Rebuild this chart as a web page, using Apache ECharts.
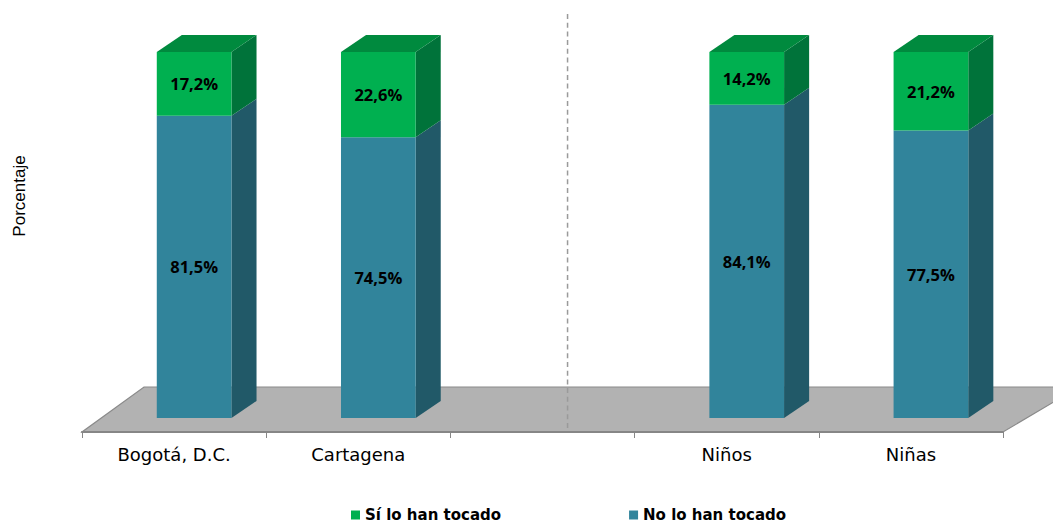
<!DOCTYPE html>
<html>
<head>
<meta charset="utf-8">
<script src="https://cdn.jsdelivr.net/npm/echarts@6/dist/echarts.min.js"></script>
<style>
  html, body { margin: 0; padding: 0; background: #ffffff; }
  #chart { width: 1053px; height: 523px; }
</style>
</head>
<body>
<div id="chart"></div>
<script>
// Categories (the empty slot separates city results from sex results)
const categories = ['Bogotá, D.C.', 'Cartagena', '', 'Niños', 'Niñas'];
// Percentages per category
const siTocado = [17.2, 22.6, null, 14.2, 21.2];
const noTocado = [81.5, 74.5, null, 84.1, 77.5];
const seriesNames = ['Sí lo han tocado', 'No lo han tocado'];
const dividerSlot = 2;
const yAxisTitle = 'Porcentaje';

// Pseudo-3D geometry, expressed against the category band width
const BAR_SHIFT = -0.094;   // front face left edge relative to band centre
const BAR_WIDTH = 0.4055;   // front face width
const DEPTH_X = 0.136;      // receding offset (horizontal)
const DEPTH_Y = -17;        // receding offset (vertical, px)
const FLOOR_FRONT = 14;     // floor front edge below the zero line
const FLOOR_DX_LEFT = 62, FLOOR_DX_RIGHT = 76, FLOOR_DY = -45;

const COLORS = {
  si: { face: '#00b050', side: '#00733a', top: '#008a3e' },
  no: { face: '#31849b', side: '#215968', top: '#286d80' }
};

const fmt = v => v.toFixed(1).replace('.', ',') + '%';

function segmentData(values, others) {
  const out = [];
  values.forEach((v, i) => { if (v != null) out.push([i, v, others[i]]); });
  return out;
}

// Draws one segment of a 100% stacked pseudo-3D column
function segmentRenderer(col, isUpper) {
  return function (params, api) {
    const i = api.value(0);
    const v = api.value(1);
    const other = api.value(2);
    const total = v + other;
    const lo = isUpper ? other / total * 100 : 0;
    const hi = lo + v / total * 100;
    const c = api.coord([i, 0]);
    const bw = api.size([1, 0])[0];
    const x0 = c[0] + BAR_SHIFT * bw;
    const x1 = x0 + BAR_WIDTH * bw;
    const yLo = api.coord([i, lo])[1];
    const yHi = api.coord([i, hi])[1];
    const dx = DEPTH_X * bw, dy = DEPTH_Y;
    const children = [
      { type: 'polygon', shape: { points: [[x1, yLo], [x1 + dx, yLo + dy], [x1 + dx, yHi + dy], [x1, yHi]] },
        style: { fill: col.side } },
      { type: 'rect', shape: { x: x0, y: yHi, width: x1 - x0, height: yLo - yHi },
        style: { fill: col.face } }
    ];
    if (isUpper) {
      children.push({ type: 'polygon', shape: { points: [[x0, yHi], [x1, yHi], [x1 + dx, yHi + dy], [x0 + dx, yHi + dy]] },
        style: { fill: col.top } });
    }
    children.push({ type: 'text', x: (x0 + x1) / 2, y: (yLo + yHi) / 2,
      style: { text: fmt(v), font: 'bold 16.5px "Open Sans"', fill: '#000000', align: 'center', verticalAlign: 'middle' } });
    return { type: 'group', children };
  };
}

// Grey floor plane and the dashed divider between the two groups
function floorRenderer(params, api) {
  const c = api.coord([0, 0]);
  const bw = api.size([1, 0])[0];
  const xl = c[0] - bw / 2;
  const xr = xl + bw * categories.length;
  const yf = c[1] + FLOOR_FRONT;
  const top = api.coord([0, 100])[1];
  const xd = api.coord([dividerSlot, 0])[0] + DEPTH_X * bw;
  return {
    type: 'group',
    children: [
      { type: 'polygon', shape: { points: [[xl, yf], [xr, yf], [xr + FLOOR_DX_RIGHT, yf + FLOOR_DY], [xl + FLOOR_DX_LEFT, yf + FLOOR_DY]] },
        style: { fill: '#b2b2b2', stroke: '#8a8a8a', lineWidth: 1.2 } },
      { type: 'line', shape: { x1: xd, y1: top - 38, x2: xd, y2: yf },
        style: { stroke: '#9a9a9a', lineWidth: 1.5, lineDash: [5, 3.7] } }
    ]
  };
}

const chart = echarts.init(document.getElementById('chart'), null, { renderer: 'svg' });
chart.setOption({
  animation: false,
  backgroundColor: '#ffffff',
  grid: { left: 82, right: 50, top: 52, bottom: 105 },
  xAxis: {
    type: 'category',
    data: categories,
    boundaryGap: true,
    offset: FLOOR_FRONT,
    z: 10,
    axisLine: { onZero: false, lineStyle: { color: '#868686', width: 2 } },
    axisTick: { show: true, interval: 0, length: 6, lineStyle: { color: '#868686', width: 1 } },
    axisLabel: { interval: 0, margin: 13, color: '#000000', fontFamily: 'DejaVu Sans', fontSize: 18 },
    splitLine: { show: false }
  },
  yAxis: { type: 'value', min: 0, max: 100, show: false },
  legend: {
    data: seriesNames,
    left: 351, top: 507.5, padding: 0,
    icon: 'rect', itemWidth: 9, itemHeight: 9, itemGap: 128,
    textStyle: { fontFamily: 'DejaVu Sans', fontWeight: 'bold', fontSize: 15, color: '#000000', lineHeight: 14 }
  },
  graphic: [{
    type: 'text', x: 19.5, y: 196, rotation: Math.PI / 2,
    style: { text: yAxisTitle, font: '17px "Liberation Sans"', fill: '#000000', align: 'center', verticalAlign: 'middle' }
  }],
  series: [
    { type: 'custom', name: 'floor', z: 1, silent: true, renderItem: floorRenderer, data: [[0, 0]], encode: { x: 0, y: 1 } },
    { type: 'custom', name: seriesNames[1], z: 2, itemStyle: { color: COLORS.no.face },
      renderItem: segmentRenderer(COLORS.no, false), data: segmentData(noTocado, siTocado), encode: { x: 0, y: 1 } },
    { type: 'custom', name: seriesNames[0], z: 3, itemStyle: { color: COLORS.si.face },
      renderItem: segmentRenderer(COLORS.si, true), data: segmentData(siTocado, noTocado), encode: { x: 0, y: 1 } }
  ]
});
</script>
</body>
</html>
